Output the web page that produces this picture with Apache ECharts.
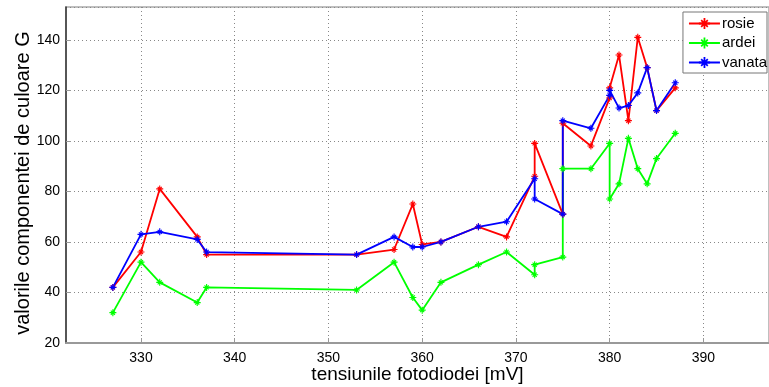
<!DOCTYPE html>
<html>
<head>
<meta charset="utf-8">
<script src="https://cdn.jsdelivr.net/npm/echarts@6/dist/echarts.min.js"></script>
<style>html,body{margin:0;padding:0;background:#fff}#c{width:769px;height:387px}</style>
</head>
<body>
<div id="c"></div>
<script>
// x values (mV) shared by all series
const xValues = [327,330,332,336,337,353,357,359,360,362,366,369,372,372,375,375,378,380,380,381,382,383,384,385,387];
const rosie  = [42,56,81,62,55,55,57,75,59,60,66,62,86,99,71,107,98,117,121,134,108,141,129,112,121];
const ardei  = [32,52,44,36,42,41,52,38,33,44,51,56,47,51,54,89,89,99,77,83,101,89,83,93,103];
const vanata = [42,63,64,61,56,55,62,58,58,60,66,68,85,77,71,108,105,118,120,113,114,119,129,112,123];
const xTicks = [330,340,350,360,370,380,390];
const seriesNames = ['rosie','ardei','vanata'];
const seriesColors = ['#ff0000','#00ff00','#0000ff'];

const star = 'path://M4.2,0 L5.8,0 L5.8,10 L4.2,10 Z M0,4.2 L10,4.2 L10,5.8 L0,5.8 Z M1.5,2.6 L2.6,1.5 L8.5,7.4 L7.4,8.5 Z M7.4,1.5 L8.5,2.6 L2.6,8.5 L1.5,7.4 Z';

function pairs(ys){ return xValues.map((x,i)=>[x, ys[i]]); }
const allY = [rosie, ardei, vanata];

const chart = echarts.init(document.getElementById('c'), null, {renderer:'canvas'});
chart.setOption({
  animation:false,
  textStyle:{fontFamily:'Liberation Sans, Arial, sans-serif'},
  grid:{left:66,right:0,top:7,bottom:44,show:true,borderColor:'#aaaaaa',borderWidth:1.5,backgroundColor:'#fff',
        outerBoundsMode:'none', containLabel:false},
  legend:{
    orient:'vertical', right:2, top:12,
    backgroundColor:'#fff', borderColor:'#777', borderWidth:1,
    padding:[4,0,3,5], itemGap:4.5, itemWidth:31, itemHeight:14,
    textStyle:{fontSize:15,color:'#000',fontFamily:'Liberation Sans, Arial, sans-serif', padding:[0,0,0,-3]},
    data: seriesNames
  },
  xAxis:{
    type:'value', min:322, max:397,
    name:'tensiunile fotodiodei [mV]', nameLocation:'middle', nameGap:22, nameMoveOverlap:false,
    nameTextStyle:{fontSize:19,color:'#000'},
    axisLine:{onZero:false,lineStyle:{color:'#999',width:2}},
    axisTick:{inside:true,length:5,customValues:xTicks,lineStyle:{color:'#999'}},
    axisLabel:{customValues:xTicks,fontSize:14,color:'#000',margin:8},
    splitLine:{show:true,lineStyle:{color:'#888',type:[1,3],width:1}}
  },
  yAxis:{
    type:'value', min:20, max:153, interval:20,
    name:'valorile componentei de culoare G', nameLocation:'middle', nameGap:33, nameMoveOverlap:false,
    nameTextStyle:{fontSize:20,color:'#000',padding:[0,16,0,0]},
    axisLine:{show:true,onZero:false,lineStyle:{color:'#333',width:1.5}},
    axisTick:{show:true,inside:true,length:5,lineStyle:{color:'#999'}},
    axisLabel:{fontSize:14,color:'#000',margin:6,showMaxLabel:false},
    splitLine:{show:true,lineStyle:{color:'#888',type:[1,3],width:1}}
  },
  series: seriesNames.map((n,i)=>({
    name:n, type:'line', data:pairs(allY[i]),
    symbol:star, symbolSize:7, showAllSymbol:true,
    lineStyle:{color:seriesColors[i],width:1.8},
    itemStyle:{color:seriesColors[i]},
    emphasis:{disabled:true}
  }))
});
</script>
</body>
</html>
